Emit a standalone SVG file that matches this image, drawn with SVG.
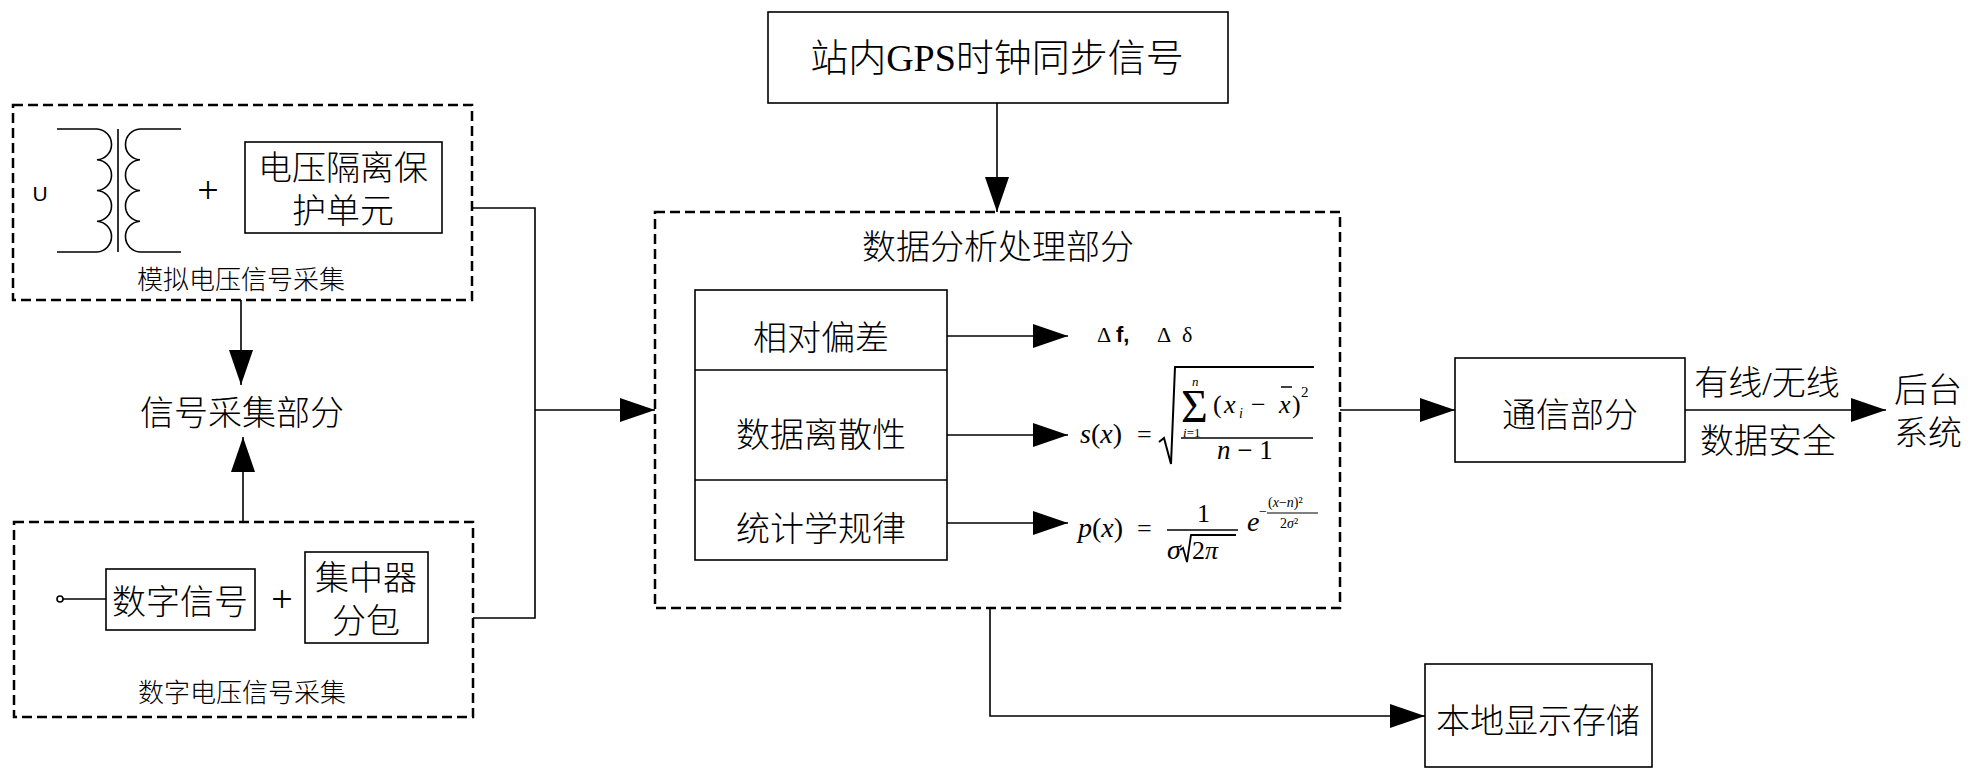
<svg xmlns="http://www.w3.org/2000/svg" width="1976" height="780" viewBox="0 0 1976 780">
<style>
.box{fill:none;stroke:#000;stroke-width:1.6}
.dash{fill:none;stroke:#000;stroke-width:2.5;stroke-dasharray:10 5}
.wire{fill:none;stroke:#000;stroke-width:1.6}
.cjk{font-family:"Noto Sans CJK SC","Noto Sans CJK TC",sans-serif;font-weight:300;fill:#000;text-anchor:middle;dominant-baseline:central}
.mix{font-family:"Liberation Serif","Noto Sans CJK SC",serif;font-weight:300;fill:#000;text-anchor:middle;dominant-baseline:central}
.m{font-family:"Liberation Serif",serif;fill:#000}
.i{font-style:italic}
.plus{font-family:"Liberation Serif",serif;font-size:38px;text-anchor:middle;fill:#000}
</style>
<defs>
<marker id="ah" viewBox="0 0 35 24" refX="35" refY="12" markerWidth="35" markerHeight="24" markerUnits="userSpaceOnUse" orient="auto">
<path d="M0,0 L35,12 L0,24 Z" fill="#000"/>
</marker>
</defs>
<rect width="1976" height="780" fill="#fff"/>

<g id="analog-acquisition">
<rect class="dash" x="13" y="105" width="459" height="195"/>
<text x="40" y="193" font-family="Liberation Sans,sans-serif" font-size="21" text-anchor="middle" dominant-baseline="central">U</text>
<path class="wire" d="M57,129 H97 A15.4,15.4 0 0 1 97,159.75 A15.4,15.4 0 0 1 97,190.5 A15.4,15.4 0 0 1 97,221.25 A15.4,15.4 0 0 1 97,252 H57"/>
<path class="wire" d="M118,129 V252"/>
<path class="wire" d="M181,129 H140 A15.4,15.4 0 0 0 140,159.75 A15.4,15.4 0 0 0 140,190.5 A15.4,15.4 0 0 0 140,221.25 A15.4,15.4 0 0 0 140,252 H181"/>
<text class="plus" x="208" y="203">+</text>
<rect class="box" x="245" y="142" width="197" height="91"/>
<text class="cjk" x="343" y="165" font-size="34">电压隔离保</text>
<text class="cjk" x="343" y="208" font-size="34">护单元</text>
<text class="cjk" x="241" y="277" font-size="26">模拟电压信号采集</text>
</g>

<g id="signal-acquisition">
<text class="cjk" x="242" y="410" font-size="34">信号采集部分</text>
</g>

<g id="digital-acquisition">
<rect class="dash" x="14" y="522" width="459" height="195"/>
<circle cx="60" cy="599" r="3" fill="#fff" stroke="#000" stroke-width="1.6"/>
<path class="wire" d="M63,599 H106"/>
<rect class="box" x="106" y="569" width="149" height="61"/>
<text class="cjk" x="180" y="599" font-size="34">数字信号</text>
<text class="plus" x="282" y="612">+</text>
<rect class="box" x="305" y="552" width="123" height="91"/>
<text class="cjk" x="366" y="575" font-size="34">集中器</text>
<text class="cjk" x="366" y="618" font-size="34">分包</text>
<text class="cjk" x="242" y="690" font-size="26">数字电压信号采集</text>
</g>

<g id="gps-clock">
<rect class="box" x="768" y="12" width="460" height="91"/>
<text class="mix" x="997" y="58" font-size="38">站内GPS时钟同步信号</text>
</g>

<g id="data-analysis">
<rect class="dash" x="655" y="212" width="685" height="396"/>
<text class="cjk" x="998" y="244" font-size="34">数据分析处理部分</text>
<rect class="box" x="695" y="290" width="252" height="270"/>
<path class="wire" d="M695,370 H947 M695,480 H947"/>
<text class="cjk" x="821" y="335" font-size="34">相对偏差</text>
<text class="cjk" x="821" y="432" font-size="34">数据离散性</text>
<text class="cjk" x="821" y="526" font-size="34">统计学规律</text>
</g>

<g id="formula-deviation" class="m">
<text x="1097" y="342" font-size="22">Δ</text>
<text x="1116" y="342" font-size="22" font-family="Liberation Sans,sans-serif" font-weight="bold">f,</text>
<text x="1157" y="342" font-size="22">Δ</text>
<text x="1182" y="342" font-size="22">δ</text>
</g>

<g id="formula-dispersion" class="m">
<text x="1080" y="443" font-size="28"><tspan class="i">s</tspan>(<tspan class="i">x</tspan>)</text>
<text x="1137" y="443" font-size="26">=</text>
<path d="M1159,442 L1164,438 L1171,464 L1175,367 H1314" fill="none" stroke="#000" stroke-width="2"/>
<text x="1181" y="422" font-size="46">Σ</text>
<text x="1192" y="386" font-size="13" class="i">n</text>
<text x="1183" y="437" font-size="13"><tspan class="i">i</tspan>=1</text>
<text x="1213" y="413" font-size="26">(</text>
<text x="1224" y="413" font-size="26" class="i">x</text>
<text x="1239" y="418" font-size="14" class="i">i</text>
<text x="1251" y="413" font-size="26">−</text>
<text x="1279" y="413" font-size="26" class="i">x</text>
<path d="M1281,387 H1292" stroke="#000" stroke-width="1.5"/>
<text x="1292" y="413" font-size="26">)</text>
<text x="1301" y="397" font-size="15">2</text>
<path d="M1181,438 H1313" stroke="#000" stroke-width="1.5"/>
<text x="1217" y="459" font-size="27"><tspan class="i">n</tspan> − 1</text>
</g>

<g id="formula-distribution" class="m">
<text x="1078" y="537" font-size="28"><tspan class="i">p</tspan>(<tspan class="i">x</tspan>)</text>
<text x="1137" y="537" font-size="26">=</text>
<text x="1197" y="522" font-size="26">1</text>
<path d="M1167,530 H1238" stroke="#000" stroke-width="1.5"/>
<text x="1167" y="559" font-size="28" class="i">σ</text>
<path d="M1180,550 L1183,548 L1187,562 L1191,535 H1236" fill="none" stroke="#000" stroke-width="1.8"/>
<text x="1192" y="559" font-size="26">2<tspan class="i">π</tspan></text>
<text x="1247" y="531" font-size="28" class="i">e</text>
<text x="1259" y="516" font-size="14">−</text>
<text x="1268" y="507" font-size="14">(<tspan class="i">x</tspan>−<tspan class="i">n</tspan>)²</text>
<path d="M1267,513 H1318" stroke="#000" stroke-width="1"/>
<text x="1280" y="528" font-size="14">2<tspan class="i">σ</tspan>²</text>
</g>

<g id="communication">
<rect class="box" x="1455" y="358" width="230" height="104"/>
<text class="cjk" x="1570" y="412" font-size="34">通信部分</text>
</g>

<g id="backend">
<text class="cjk" x="1928" y="387" font-size="34">后台</text>
<text class="cjk" x="1928" y="430" font-size="34">系统</text>
</g>

<g id="local-storage">
<rect class="box" x="1425" y="664" width="227" height="103"/>
<text class="cjk" x="1538" y="718" font-size="34">本地显示存储</text>
</g>

<g id="connectors">
<path class="wire" d="M241,300 V385" marker-end="url(#ah)"/>
<path class="wire" d="M243,522 V437" marker-end="url(#ah)"/>
<path class="wire" d="M472,208 H535 V618 H473"/>
<path class="wire" d="M535,410 H655" marker-end="url(#ah)"/>
<path class="wire" d="M997,103 V212" marker-end="url(#ah)"/>
<path class="wire" d="M947,336 H1068" marker-end="url(#ah)"/>
<path class="wire" d="M947,435 H1068" marker-end="url(#ah)"/>
<path class="wire" d="M947,523 H1068" marker-end="url(#ah)"/>
<path class="wire" d="M1340,410 H1455" marker-end="url(#ah)"/>
<path class="wire" d="M1685,410 H1886" marker-end="url(#ah)"/>
<path class="wire" d="M990,608 V716 H1425" marker-end="url(#ah)"/>
<text class="mix" x="1767" y="383" font-size="34">有线/无线</text>
<text class="cjk" x="1768" y="438" font-size="34">数据安全</text>
</g>
</svg>
